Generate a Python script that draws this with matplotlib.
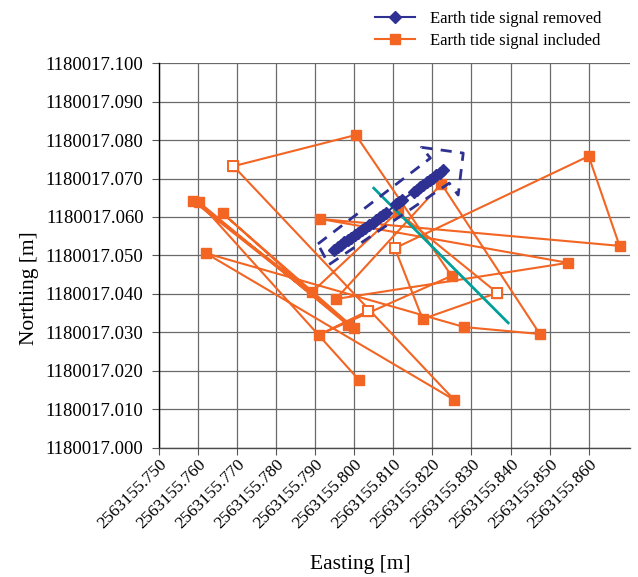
'''
Easting/northing scatter of GNSS positions with and without the
earth tide signal.
'''
import matplotlib
matplotlib.use('Agg')
import matplotlib.pyplot as plt
from matplotlib.ticker import FormatStrFormatter

E0 = 2563155.0
N0 = 1180017.0

# earth tide signal removed (offsets from E0 / N0, metres)
removed_e = [0.7949, 0.7958, 0.7966, 0.7975, 0.7983, 0.7992, 0.8001, 0.8010,
             0.8019, 0.8028, 0.8037, 0.8047, 0.8056, 0.8066, 0.8074, 0.8082,
             0.8107, 0.8114, 0.8121,
             0.8152, 0.8160, 0.8168, 0.8176, 0.8185, 0.8193, 0.8202, 0.8210,
             0.8219, 0.8228]
removed_n = [0.0515, 0.0521, 0.0527, 0.0534, 0.0539, 0.0546, 0.0552, 0.0559,
             0.0565, 0.0571, 0.0578, 0.0585, 0.0591, 0.0599, 0.0604, 0.0610,
             0.0634, 0.0639, 0.0643,
             0.0665, 0.0671, 0.0677, 0.0683, 0.0690, 0.0696, 0.0702, 0.0708,
             0.0715, 0.0722]

# earth tide signal included, in time order
included_e = [0.8012, 0.7602, 0.7984, 0.7663, 0.7999, 0.7587, 0.7892, 0.8111,
              0.8366, 0.8175, 0.8104, 0.8600, 0.8679, 0.7913, 0.8547, 0.7953,
              0.8223, 0.8475, 0.8282, 0.7620, 0.8256, 0.7691, 0.8004, 0.8249,
              0.7910, 0.8035]
included_n = [0.0177, 0.0639, 0.0319, 0.0610, 0.0312, 0.0642, 0.0405, 0.0613,
              0.0403, 0.0335, 0.0519, 0.0758, 0.0525, 0.0595, 0.0481, 0.0387,
              0.0686, 0.0296, 0.0314, 0.0506, 0.0125, 0.0732, 0.0813, 0.0447,
              0.0294, 0.0356]
# samples drawn with an open marker
included_open = [0.7691, 0.8035, 0.8104, 0.8366]

# arrow sketched round the "removed" track
arrow_e = [0.7907, 0.8195, 0.8172, 0.8279, 0.8266, 0.8243, 0.7935, 0.7907]
arrow_n = [0.0530, 0.0753, 0.0781, 0.0766, 0.0657, 0.0688, 0.0476, 0.0530]

# trend line
trend_e = [0.8050, 0.8394]
trend_n = [0.0675, 0.0325]

xticks = [0.750, 0.760, 0.770, 0.780, 0.790, 0.800, 0.810, 0.820, 0.830,
          0.840, 0.850, 0.860]
yticks = [0.000, 0.010, 0.020, 0.030, 0.040, 0.050, 0.060, 0.070, 0.080,
          0.090, 0.100]

blue = '#2e3192'
orange = '#f26522'
teal = '#00a09a'

plt.rcParams['font.family'] = ['Liberation Serif', 'DejaVu Serif']

fig = plt.figure(figsize=(6.38, 5.77), dpi=100)
ax = fig.add_axes([0.249, 0.2236, 0.738, 0.6672])

def e(v):
    return [E0 + a for a in v]

def n(v):
    return [N0 + a for a in v]

ax.plot(e(included_e), n(included_n), '-', color=orange, lw=1.5,
        marker='s', ms=7, zorder=3, label='Earth tide signal included')
op = [i for i, a in enumerate(included_e) if a in included_open]
ax.plot([E0 + included_e[i] for i in op], [N0 + included_n[i] for i in op],
        's', ms=6.5, mfc='white', mec=orange, mew=1.4, ls='none', zorder=4)
ax.plot(e(trend_e), n(trend_n), '-', color=teal, lw=2, zorder=5)
ax.plot(e(arrow_e), n(arrow_n), '--', color=blue, lw=2, dashes=(4, 3),
        zorder=5)
ax.plot(e(removed_e), n(removed_n), '-', color=blue, lw=1.5, marker='D',
        ms=6.5, zorder=6, label='Earth tide signal removed')

ax.set_xlim(E0 + 0.750, E0 + 0.8705)
ax.set_ylim(N0 + 0.000, N0 + 0.100)
ax.set_xticks(e(xticks))
ax.set_yticks(n(yticks))
ax.xaxis.set_major_formatter(FormatStrFormatter('%.3f'))
ax.yaxis.set_major_formatter(FormatStrFormatter('%.3f'))
ax.tick_params(length=5, width=0.8, color='#555555')
ax.tick_params(axis='y', pad=6, labelsize=13.5)
ax.tick_params(axis='x', pad=1, labelsize=12.5)
plt.setp(ax.get_xticklabels(), rotation=45, ha='right',
         rotation_mode='anchor')
ax.grid(True, color='#6a6a6a', lw=0.9)
ax.set_axisbelow(True)
for s in ['top', 'right']:
    ax.spines[s].set_visible(False)
ax.spines['bottom'].set_color('#4a4a4a')
ax.spines['bottom'].set_linewidth(1.0)
ax.spines['left'].set_color('black')
ax.spines['left'].set_linewidth(1.0)

fig.text(0.047, 0.5, 'Northing [m]', rotation=90, ha='center', va='center',
         fontsize=15.5)
fig.text(0.564, 0.021, 'Easting [m]', ha='center', va='center',
         fontsize=15.5)

h, l = ax.get_legend_handles_labels()
fig.legend(h[::-1], l[::-1], loc='upper left', bbox_to_anchor=(0.565, 1.007),
           frameon=False, fontsize=12, handlelength=2.4,
           handletextpad=0.9, labelspacing=0.35)

plt.savefig('out.png', dpi=100)
